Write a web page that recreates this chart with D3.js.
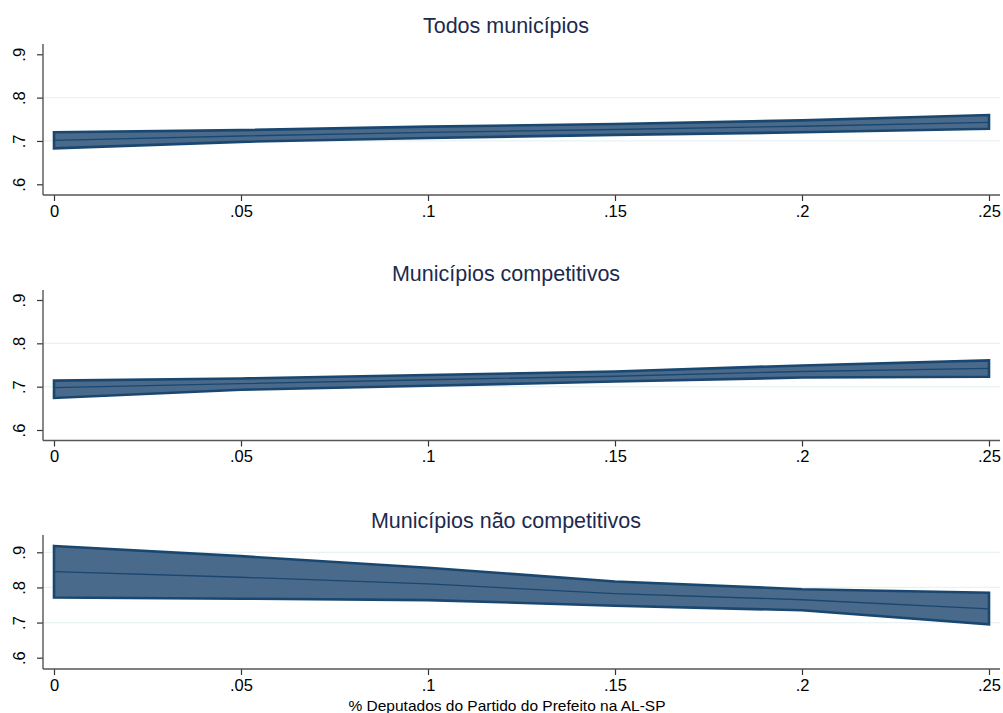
<!DOCTYPE html>
<html>
<head>
<meta charset="utf-8">
<title>Margins</title>
<script src="https://d3js.org/d3.v7.min.js"></script>
<style>
  body { margin: 0; background: #fff; }
  text { font-family: "Liberation Sans", Arial, sans-serif; }
</style>
</head>
<body>
<div id="chart"></div>
<script>
// valores do eixo x
let xVals = [0, 0.05, 0.1, 0.15, 0.2, 0.25];
let xTickLabels = ["0", ".05", ".1", ".15", ".2", ".25"];
let yTicks = [0.6, 0.7, 0.8, 0.9];
let yTickLabels = [".6", ".7", ".8", ".9"];

// Todos municípios
let todosEst = [0.7015, 0.7115, 0.720, 0.7265, 0.734, 0.743];
let todosLo  = [0.683, 0.698, 0.707, 0.714, 0.720, 0.728];
let todosHi  = [0.720, 0.725, 0.733, 0.739, 0.7475, 0.760];

// Municípios competitivos
let compEst = [0.6977, 0.707, 0.716, 0.724, 0.735, 0.742];
let compLo  = [0.674, 0.693, 0.702, 0.712, 0.721, 0.723];
let compHi  = [0.714, 0.719, 0.727, 0.735, 0.749, 0.7605];

// Municípios não competitivos
let naoEst = [0.845, 0.829, 0.810, 0.7825, 0.765, 0.739];
let naoLo  = [0.7715, 0.768, 0.764, 0.748, 0.735, 0.695];
let naoHi  = [0.918, 0.889, 0.856, 0.817, 0.795, 0.785];

let titles = ["Todos municípios", "Municípios competitivos", "Municípios não competitivos"];
let xTitle = "% Deputados do Partido do Prefeito na AL-SP";

let w = 1003, h = 713;
let left = 43, right = 1000;

// posição de cada painel (topo/base do eixo, pixel de .6 e .9, linha de base do título)
let panels = [
  {title: titles[0], est: todosEst, lo: todosLo, hi: todosHi, top: 44, bottom: 195, y06: 184.3, y09: 54.3, ty: 32.5, grid: [0.7, 0.8]},
  {title: titles[1], est: compEst, lo: compLo, hi: compHi, top: 290, bottom: 440.5, y06: 430, y09: 300, ty: 281, grid: [0.7, 0.8]},
  {title: titles[2], est: naoEst, lo: naoLo, hi: naoHi, top: 535, bottom: 669, y06: 657.7, y09: 552.3, ty: 527.5, grid: [0.7, 0.8, 0.9]}
];

let svg = d3.select("#chart").append("svg")
  .attr("width", w).attr("height", h);

let xScale = d3.scaleLinear().domain([0, 0.25]).range([54, 989]);

let navy = "#1a476f";

panels.forEach(function(p, i) {
  let yScale = d3.scaleLinear().domain([0.6, 0.9]).range([p.y06, p.y09]);
  let g = svg.append("g");

  // grid
  g.selectAll("line.grid").data(p.grid).enter().append("line")
    .attr("x1", left).attr("x2", right)
    .attr("y1", d => yScale(d)).attr("y2", d => yScale(d))
    .attr("stroke", "#eaf2f3").attr("stroke-width", 1.3);

  let pts = xVals.map((x, k) => ({x: x, est: p.est[k], lo: p.lo[k], hi: p.hi[k]}));

  let area = d3.area()
    .x(d => xScale(d.x))
    .y0(d => yScale(d.lo))
    .y1(d => yScale(d.hi));

  g.append("path").datum(pts)
    .attr("d", area)
    .attr("fill", "#4a6a8b")
    .attr("stroke", navy)
    .attr("stroke-width", 2.6)
    .attr("stroke-linejoin", "miter");

  let line = d3.line().x(d => xScale(d.x)).y(d => yScale(d.est));
  g.append("path").datum(pts)
    .attr("d", line)
    .attr("fill", "none")
    .attr("stroke", navy)
    .attr("stroke-width", 1.3);

  // eixo y
  let yAxis = d3.axisLeft(yScale).tickValues(yTicks)
    .tickFormat((d, k) => yTickLabels[k]).tickSize(6).tickPadding(8);
  let ya = g.append("g").attr("transform", "translate(" + left + ",0)").call(yAxis);
  ya.select(".domain").remove();
  ya.selectAll(".tick line").attr("stroke", "#333").attr("stroke-width", 1.2);
  ya.selectAll(".tick text")
    .attr("font-size", 16.5).attr("fill", "#000")
    .attr("text-anchor", "middle")
    .attr("x", null).attr("dy", null)
    .attr("transform", "translate(-22,0) rotate(-90)")
    .attr("y", 0)
    .attr("dominant-baseline", "middle");
  g.append("line")
    .attr("x1", left).attr("x2", left)
    .attr("y1", p.top).attr("y2", p.bottom)
    .attr("stroke", "#555").attr("stroke-width", 1.4);

  // eixo x
  let xAxis = d3.axisBottom(xScale).tickValues(xVals)
    .tickFormat((d, k) => xTickLabels[k]).tickSize(6).tickPadding(4);
  let xa = g.append("g").attr("transform", "translate(0," + p.bottom + ")").call(xAxis);
  xa.select(".domain").remove();
  xa.selectAll(".tick line").attr("stroke", "#333").attr("stroke-width", 1.2);
  xa.selectAll(".tick text").attr("font-size", 16.5).attr("fill", "#000");
  g.append("line")
    .attr("x1", left).attr("x2", right)
    .attr("y1", p.bottom).attr("y2", p.bottom)
    .attr("stroke", "#555").attr("stroke-width", 1.4);

  // título
  g.append("text")
    .attr("x", 506).attr("y", p.ty)
    .attr("text-anchor", "middle")
    .attr("font-size", 21.5)
    .attr("fill", "#1c2a4e")
    .text(p.title);
});

svg.append("text")
  .attr("x", 507).attr("y", 711)
  .attr("text-anchor", "middle")
  .attr("font-size", 15.5)
  .attr("fill", "#000")
  .text(xTitle);
</script>
</body>
</html>
